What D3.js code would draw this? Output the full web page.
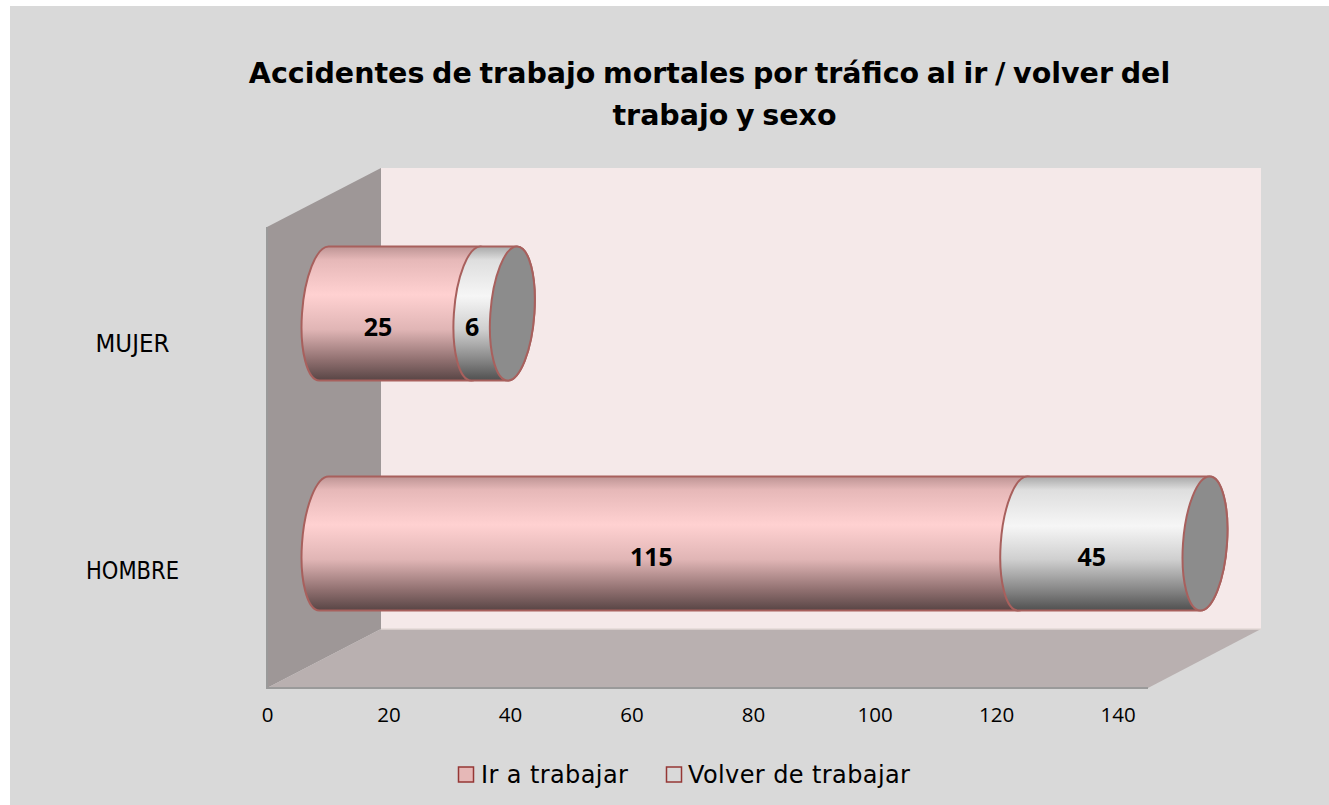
<!DOCTYPE html>
<html><head><meta charset="utf-8">
<script src="https://cdnjs.cloudflare.com/ajax/libs/d3/7.8.5/d3.min.js"></script>
<style>html,body{margin:0;padding:0;background:#fff}svg{display:block}text{font-family:"DejaVu Sans",sans-serif}</style>
</head><body><div id="c"></div>
<script>
const categories = ["MUJER", "HOMBRE"];
const seriesNames = ["Ir a trabajar", "Volver de trabajar"];
const irATrabajar = [25, 115];
const volverDeTrabajar = [6, 45];
const xTicks = [0, 20, 40, 60, 80, 100, 120, 140];
const titleLines = ["Accidentes de trabajo mortales por tráfico al ir / volver del", "trabajo y sexo"];

const W = 1329, H = 805;
const svg = d3.select("#c").append("svg").attr("width", W).attr("height", H);
const x = d3.scaleLinear().domain([0, 145]).range([267, 1148]).clamp(true);
const y = d3.scaleBand().domain(categories).range([228, 688]);
const dx = 114, dy = 59;           // 3D depth offset
const barDx = dx / 2, barDy = dy / 2;
const rx = 22, ry = 67, skew = -3.9;

svg.append("rect").attr("x", 10).attr("y", 6).attr("width", W - 10).attr("height", H - 6).attr("fill", "#d9d9d9");

const defs = svg.append("defs");
function grad(id, stops) {
  const g = defs.append("linearGradient").attr("id", id).attr("x1", 0).attr("y1", 0).attr("x2", 0).attr("y2", 1);
  stops.forEach(s => g.append("stop").attr("offset", s[0]).attr("stop-color", s[1]));
}
grad("gp", [[0, "#bd9494"], [0.1, "#e6b8b8"], [0.36, "#ffd1d1"], [0.62, "#e0b5b5"], [0.85, "#8f6f6f"], [1, "#584545"]]);
grad("gw", [[0, "#a8a8a8"], [0.1, "#dedede"], [0.37, "#f6f6f6"], [0.62, "#cfcfcf"], [0.85, "#858585"], [1, "#505050"]]);

const x0 = x(0), x1 = x.range()[1], yTop = y.range()[0], yBot = y.range()[1];
// back wall, side wall, floor
svg.append("path").attr("fill", "#f5e9e9")
  .attr("d", d3.line()([[x0 + dx, yTop - dy - 1], [x1 + dx - 1, yTop - dy - 1], [x1 + dx - 1, yBot - dy], [x0 + dx, yBot - dy]]) + "Z");
svg.append("path").attr("fill", "#9e9797")
  .attr("d", d3.line()([[x0, yTop - 1], [x0 + dx, yTop - dy - 1], [x0 + dx, yBot - dy], [x0, yBot]]) + "Z");
svg.append("path").attr("fill", "#b9b0b0")
  .attr("d", d3.line()([[x0, yBot], [x0 + dx, yBot - dy], [x1 + dx - 1, yBot - dy], [x1, yBot]]) + "Z");
svg.append("path").attr("stroke", "#e3d8d6").attr("stroke-width", 1.5).attr("fill", "none")
  .attr("d", d3.line()([[x0 + dx, yBot - dy], [x1 + dx - 1, yBot - dy]]));
svg.append("path").attr("stroke", "#9a9a9a").attr("stroke-width", 2).attr("fill", "none")
  .attr("d", d3.line()([[x0, yTop - 1], [x0, yBot], [x1, yBot]]));

const stroke = "#a8605d";
const rows = categories.map((c, i) => ({ c, a: irATrabajar[i], b: volverDeTrabajar[i] }));
rows.forEach(r => {
  const cy = y(r.c) + y.bandwidth() / 2 - barDy;
  const g = svg.append("g");
  const tr = cx => `translate(${cx},${cy}) skewX(${skew})`;
  const seg = (v0, v1, fill) => {
    const a = x(v0) + barDx, b = x(v1) + barDx, len = b - a;
    g.append("path").attr("transform", tr(a)).attr("fill", fill)
      .attr("stroke", stroke).attr("stroke-width", 2)
      .attr("d", `M0,${-ry}L${len},${-ry}A${rx},${ry} 0 0 1 ${len},${ry}L0,${ry}A${rx},${ry} 0 0 1 0,${-ry}Z`);
  };
  seg(0, r.a, "url(#gp)");
  seg(r.a, r.a + r.b, "url(#gw)");
  g.append("ellipse").attr("transform", tr(x(r.a + r.b) + barDx)).attr("rx", rx).attr("ry", ry)
    .attr("fill", "#8c8c8c").attr("stroke", stroke).attr("stroke-width", 2);
  const lab = (v0, v1, t) => {
    const mid = (x(v0) + x(v1)) / 2 + barDx;
    g.append("text").attr("x", mid - 22).attr("y", cy + 22).attr("text-anchor", "middle")
      .style("font-family", '"Open Sans"').attr("font-size", 25).attr("font-weight", "bold").attr("fill", "#000").text(t);
  };
  lab(0, r.a, r.a);
  lab(r.a, r.a + r.b, r.b);
});

// axes
const axis = d3.axisBottom(x).tickValues(xTicks).tickSize(0).tickPadding(0);
const gx = svg.append("g").attr("transform", `translate(0,${yBot + 21})`).call(axis);
gx.select(".domain").remove();
gx.selectAll("text").attr("font-size", 20.5).style("font-family", '"Open Sans"').attr("fill", "#000").attr("dy", "0.32em").attr("y", 6);

const catWidths = [74, 93];
categories.forEach((c, i) => {
  svg.append("text").attr("x", 132.5).attr("y", [352, 579][i])
    .attr("text-anchor", "middle").attr("font-size", 25).attr("fill", "#000")
    .attr("textLength", catWidths[i]).attr("lengthAdjust", "spacingAndGlyphs").text(c);
});

// title
const titleCx = [709.5, 724.5];
titleLines.forEach((t, i) => {
  svg.append("text").attr("x", titleCx[i]).attr("y", 83 + i * 41.5).attr("text-anchor", "middle")
    .attr("font-size", 28.5).attr("font-weight", "bold").attr("word-spacing", -2.25).attr("fill", "#000").text(t);
});

// legend
const legendX = [458.5, 666.5], legendTextX = [481, 688], legendFill = ["#e6b8b7", "#d9d9d9"];
seriesNames.forEach((s, i) => {
  svg.append("rect").attr("x", legendX[i]).attr("y", 767).attr("width", 15).attr("height", 15)
    .attr("fill", legendFill[i]).attr("stroke", "#953735").attr("stroke-width", 1.5);
  svg.append("text").attr("x", legendTextX[i]).attr("y", 783).attr("font-size", 24).attr("letter-spacing", 0.4).attr("fill", "#000").text(s);
});
</script></body></html>
